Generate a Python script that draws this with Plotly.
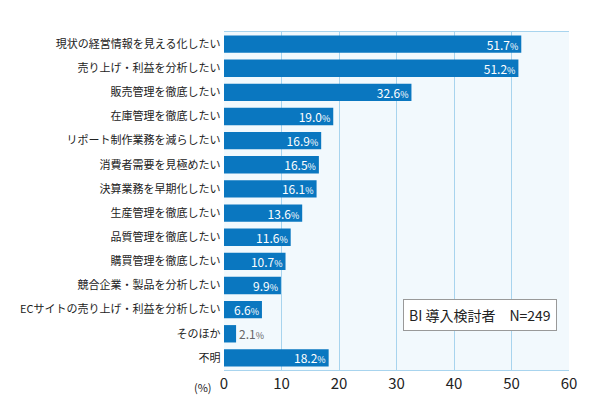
import plotly.graph_objects as go

categories = ["現状の経営情報を見える化したい", "売り上げ・利益を分析したい", "販売管理を徹底したい",
              "在庫管理を徹底したい", "リポート制作業務を減らしたい", "消費者需要を見極めたい",
              "決算業務を早期化したい", "生産管理を徹底したい", "品質管理を徹底したい",
              "購買管理を徹底したい", "競合企業・製品を分析したい", "ECサイトの売り上げ・利益を分析したい",
              "そのほか", "不明"]
values = [51.7, 51.2, 32.6, 19.0, 16.9, 16.5, 16.1, 13.6, 11.6, 10.7, 9.9, 6.6, 2.1, 18.2]
x_ticks = [0, 10, 20, 30, 40, 50, 60]

labels = [f"{v:.1f}<span style='font-size:9px'>%</span>" for v in values]
positions = ["outside" if v < 5 else "inside" for v in values]
colors = ["#666666" if v < 5 else "white" for v in values]

fig = go.Figure(go.Bar(
    x=values, y=categories, orientation="h",
    marker=dict(color="#0a77c0", line_width=0),
    text=labels, textposition=positions, insidetextanchor="end",
    textfont=dict(color=colors, size=12), outsidetextfont=dict(size=11, color="#666"),
    width=0.72, cliponaxis=False,
))
fig.update_layout(
    width=590, height=400, margin=dict(l=216, r=29, t=24, b=38),
    paper_bgcolor="white", plot_bgcolor="#f2f9fd",
    font=dict(family="Noto Sans CJK JP", size=11, color="#222"),
    showlegend=False,
    xaxis=dict(range=[0, 60], tickvals=x_ticks, showgrid=True, gridcolor="#a8d4ee",
               gridwidth=1, zeroline=False, showline=True, linecolor="#a8d4ee",
               mirror=True, tickfont=dict(size=15), ticks="", automargin=False),
    yaxis=dict(autorange="reversed", tickfont=dict(size=11), ticks="", showline=False,
               ticksuffix=" ", automargin=False),
    uniformtext=dict(mode="show", minsize=12),
)
fig.add_annotation(text="(%)", xref="paper", yref="paper", x=-0.03, y=-0.02,
                   xanchor="right", yanchor="top", showarrow=False, font=dict(size=11))
fig.add_annotation(text="BI 導入検討者　N=249", xref="x", yref="paper", x=44.5, y=0.115,
                   showarrow=False, font=dict(size=14, color="#222"),
                   bgcolor="white", bordercolor="#999", borderwidth=1, borderpad=5)
fig.write_html("out.html")
